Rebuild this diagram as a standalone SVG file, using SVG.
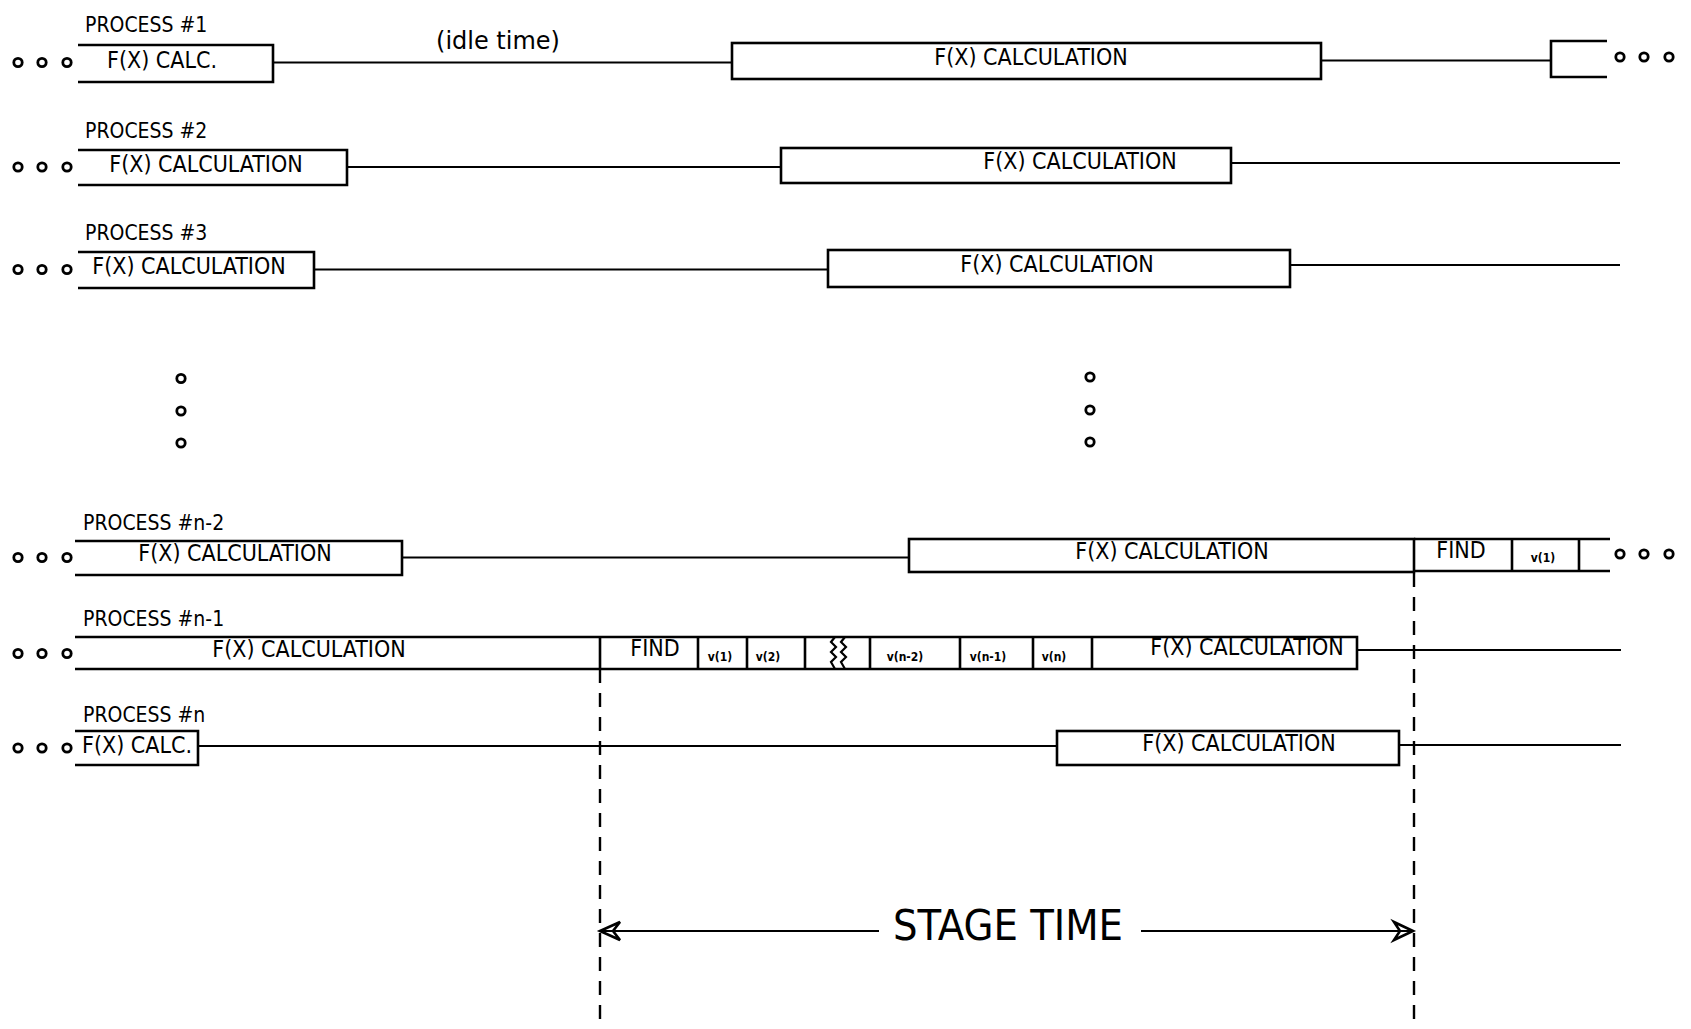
<svg xmlns="http://www.w3.org/2000/svg" width="1691" height="1029" viewBox="0 0 1691 1029">
<style>
.bg{fill:#fff}
.box{fill:none;stroke:#000;stroke-width:2.6}
.ln{fill:none;stroke:#000;stroke-width:2.2}
.dot{fill:none;stroke:#000;stroke-width:2.8}
.dash{fill:none;stroke:#000;stroke-width:2.4;stroke-dasharray:14 10}
.lbl{font-family:"DejaVu Sans Condensed","DejaVu Sans",sans-serif;font-size:21px;fill:#000}
.t{font-family:"DejaVu Sans Condensed","DejaVu Sans",sans-serif;font-size:23px;fill:#000;text-anchor:middle}
.s{font-family:"DejaVu Sans Condensed","DejaVu Sans",sans-serif;font-size:12px;font-weight:bold;fill:#000;text-anchor:middle}
.idle{font-family:"DejaVu Sans","Liberation Sans",sans-serif;font-size:24px;fill:#000;text-anchor:middle}
.big{font-family:"DejaVu Sans Condensed","DejaVu Sans",sans-serif;font-size:43px;fill:#000;text-anchor:middle}
</style>
<defs>
<g id="dots3"><circle cx="0" cy="0" r="4.2" class="dot"/><circle cx="24" cy="0" r="4.2" class="dot"/><circle cx="49" cy="0" r="4.2" class="dot"/></g>
</defs>
<rect class="bg" x="0" y="0" width="1691" height="1029"/>

<g id="connectors">
<path class="ln" d="M273,62.5 H732"/>
<path class="ln" d="M1321,60.5 H1551"/>
<path class="ln" d="M347,167 H781"/>
<path class="ln" d="M1231,163 H1620"/>
<path class="ln" d="M314,269.5 H828"/>
<path class="ln" d="M1290,265 H1620"/>
<path class="ln" d="M402,557.5 H909"/>
<path class="ln" d="M1357,650 H1621"/>
<path class="ln" d="M198,746 H1057"/>
<path class="ln" d="M1399,745 H1621"/>
<path class="dash" d="M600,669 V1019"/>
<path class="dash" d="M1414,573 V1019"/>
<path class="ln" d="M600,931 H879"/>
<path class="ln" d="M1141,931 H1412"/>
<path class="box" d="M600,931 L620,922 L613,931 L620,940 Z"/>
<path class="box" d="M1413,931 L1394,922 L1400,931 L1394,940 Z"/>
<text class="big" x="1008" y="940">STAGE TIME</text>
</g>

<g id="process1">
<text class="lbl" x="85" y="32">PROCESS #1</text>
<use href="#dots3" x="18" y="62.5"/>
<path class="box" d="M78,45 H273 V82 H78"/>
<text class="t" x="162" y="68">F(X) CALC.</text>
<text class="idle" x="498" y="49">(idle time)</text>
<rect class="box" x="732" y="43" width="589" height="36"/>
<text class="t" x="1031" y="65">F(X) CALCULATION</text>
<path class="box" d="M1607,41 H1551 V77 H1607"/>
<use href="#dots3" x="1620" y="57"/>
</g>

<g id="process2">
<text class="lbl" x="85" y="138">PROCESS #2</text>
<use href="#dots3" x="18" y="167"/>
<path class="box" d="M78,150 H347 V185 H78"/>
<text class="t" x="206" y="172">F(X) CALCULATION</text>
<rect class="box" x="781" y="148" width="450" height="35"/>
<text class="t" x="1080" y="169">F(X) CALCULATION</text>
</g>

<g id="process3">
<text class="lbl" x="85" y="240">PROCESS #3</text>
<use href="#dots3" x="18" y="269.5"/>
<path class="box" d="M78,252 H314 V288 H78"/>
<text class="t" x="189" y="274">F(X) CALCULATION</text>
<rect class="box" x="828" y="250" width="462" height="37"/>
<text class="t" x="1057" y="272">F(X) CALCULATION</text>
</g>

<g id="ellipsis-left">
<circle class="dot" cx="181" cy="378.5" r="4.2"/>
<circle class="dot" cx="181" cy="411" r="4.2"/>
<circle class="dot" cx="181" cy="443" r="4.2"/>
</g>
<g id="ellipsis-right">
<circle class="dot" cx="1090" cy="377" r="4.2"/>
<circle class="dot" cx="1090" cy="410" r="4.2"/>
<circle class="dot" cx="1090" cy="442" r="4.2"/>
</g>

<g id="process-n-2">
<text class="lbl" x="83" y="530">PROCESS #n-2</text>
<use href="#dots3" x="18" y="557.5"/>
<path class="box" d="M75,541 H402 V575 H75"/>
<text class="t" x="235" y="561">F(X) CALCULATION</text>
<rect class="box" x="909" y="539" width="505" height="33"/>
<text class="t" x="1172" y="559">F(X) CALCULATION</text>
<path class="box" d="M1414,539 H1610 M1414,571 H1610 M1512,539 V571 M1579,539 V571"/>
<text class="t" x="1461" y="558">FIND</text>
<text class="s" x="1543" y="562">v(1)</text>
<use href="#dots3" x="1620" y="554"/>
</g>

<g id="process-n-1">
<text class="lbl" x="83" y="626">PROCESS #n-1</text>
<use href="#dots3" x="18" y="653.5"/>
<path class="box" d="M75,637 H1357 V669 H75"/>
<path class="box" d="M600,637 V669 M698,637 V669 M747,637 V669 M805,637 V669 M870,637 V669 M960,637 V669 M1033,637 V669 M1092,637 V669"/>
<path class="ln" d="M835,637 L831,642 L836,647 L831,652 L836,657 L831,662 L835,669 M845,637 L841,642 L846,647 L841,652 L846,657 L841,662 L845,669"/>
<text class="t" x="309" y="657">F(X) CALCULATION</text>
<text class="t" x="655" y="656">FIND</text>
<text class="s" x="720" y="661">v(1)</text>
<text class="s" x="768" y="661">v(2)</text>
<text class="s" x="905" y="661">v(n-2)</text>
<text class="s" x="988" y="661">v(n-1)</text>
<text class="s" x="1054" y="661">v(n)</text>
<text class="t" x="1247" y="655">F(X) CALCULATION</text>
</g>

<g id="process-n">
<text class="lbl" x="83" y="722">PROCESS #n</text>
<use href="#dots3" x="18" y="748"/>
<path class="box" d="M75,731 H198 V765 H75"/>
<text class="t" x="137" y="753">F(X) CALC.</text>
<rect class="box" x="1057" y="731" width="342" height="34"/>
<text class="t" x="1239" y="751">F(X) CALCULATION</text>
</g>
</svg>
